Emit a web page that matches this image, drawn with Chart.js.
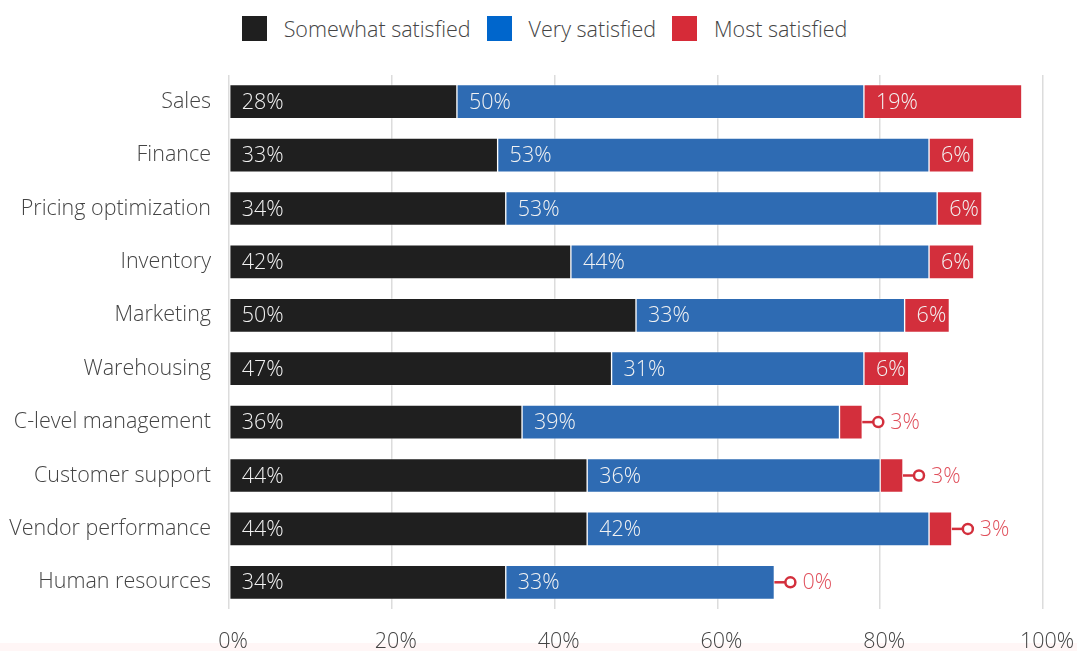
<!DOCTYPE html>
<html>
<head>
<meta charset="utf-8">
<script src="https://cdn.jsdelivr.net/npm/chart.js@4/dist/chart.umd.min.js"></script>
<style>
    html, body { margin: 0; padding: 0; background: #fff; }
    #wrap { position: relative; width: 1077px; height: 651px; overflow: hidden; }
    #band { position: absolute; left: 0; top: 643px; width: 1077px; height: 8px; background: #fff6f6; }
    #legend {
        position: absolute; left: 6px; top: 14px; width: 1077px;
        display: flex; justify-content: center; align-items: center;
        font-family: 'Open Sans', sans-serif; font-weight: 300; font-size: 21.5px; color: #444;
    }
    .item { display: flex; align-items: center; margin: 0 8px; }
    .box { width: 25px; height: 25px; margin-right: 17px; }
    canvas { position: absolute; left: 0; top: 0; }
</style>
</head>
<body>
<div id="wrap">
    <div id="band"></div>
    <div id="legend"></div>
    <canvas id="chart" width="1077" height="651"></canvas>
</div>
<script>
const categories = ['Sales', 'Finance', 'Pricing optimization', 'Inventory', 'Marketing', 'Warehousing',
    'C-level management', 'Customer support', 'Vendor performance', 'Human resources'];
const somewhatSatisfied = [28, 33, 34, 42, 50, 47, 36, 44, 44, 34];
const verySatisfied = [50, 53, 53, 44, 33, 31, 39, 36, 42, 33];
const mostSatisfied = [19.4, 5.5, 5.5, 5.5, 5.5, 5.5, 2.8, 2.8, 2.8, 0];
const xTicks = [0, 20, 40, 60, 80, 100];

const FONT = "'Open Sans', sans-serif";
const FONT_SIZE = 21.5;
const COLORS = {
    somewhat: '#1f1f1f',
    very: '#2e6bb3',
    most: '#d32f3c',
    legendVery: '#0066cc',
    legendMost: '#d62b38',
    callout: '#e0505c',
};

// html legend, spacing is closer to the reference than the built-in one
const legendItems = [
    ['Somewhat satisfied', COLORS.somewhat],
    ['Very satisfied', COLORS.legendVery],
    ['Most satisfied', COLORS.legendMost],
];
const legendEl = document.getElementById('legend');
legendItems.forEach(([label, color]) => {
    const item = document.createElement('div');
    item.className = 'item';
    const box = document.createElement('div');
    box.className = 'box';
    box.style.background = color;
    const txt = document.createElement('span');
    txt.textContent = label;
    item.appendChild(box);
    item.appendChild(txt);
    legendEl.appendChild(item);
});

const segmentLabels = {
    id: 'segmentLabels',
    afterDatasetsDraw(chart) {
        const ctx = chart.ctx;
        ctx.save();
        ctx.font = `300 ${FONT_SIZE}px ${FONT}`;
        ctx.textBaseline = 'middle';
        ctx.textAlign = 'left';
        chart.data.datasets.forEach((ds, di) => {
            const meta = chart.getDatasetMeta(di);
            meta.data.forEach((bar, i) => {
                const v = ds.data[i];
                const txt = Math.round(v) + '%';
                const y = bar.y + 1;
                if (v >= 4) {
                    ctx.fillStyle = '#f2f2f2';
                    ctx.fillText(txt, Math.min(bar.x, bar.base) + 12, y);
                } else {
                    // callout for tiny segments
                    const end = Math.max(bar.x, bar.base);
                    const cx = end + 16;
                    ctx.strokeStyle = COLORS.most;
                    ctx.lineWidth = 2.5;
                    ctx.beginPath();
                    ctx.moveTo(end, bar.y);
                    ctx.lineTo(cx - 5, bar.y);
                    ctx.stroke();
                    ctx.beginPath();
                    ctx.arc(cx, bar.y, 5, 0, Math.PI * 2);
                    ctx.fillStyle = '#fff';
                    ctx.fill();
                    ctx.stroke();
                    ctx.fillStyle = COLORS.callout;
                    ctx.fillText(txt, cx + 12, y);
                }
            });
        });
        ctx.restore();
    },
};

new Chart(document.getElementById('chart'), {
    type: 'bar',
    data: {
        labels: categories,
        datasets: [
            { label: 'Somewhat satisfied', data: somewhatSatisfied, backgroundColor: COLORS.somewhat },
            { label: 'Very satisfied', data: verySatisfied, backgroundColor: COLORS.very },
            { label: 'Most satisfied', data: mostSatisfied, backgroundColor: COLORS.most },
        ].map(d => Object.assign(d, {
            barThickness: 34,
            borderWidth: 1,
            borderColor: 'rgba(255,255,255,0.3)',
            borderSkipped: false,
        })),
    },
    options: {
        indexAxis: 'y',
        responsive: false,
        animation: false,
        layout: { padding: { top: 75, right: 34, bottom: 0, left: 0 } },
        plugins: {
            legend: { display: false },
            tooltip: { enabled: false },
        },
        scales: {
            x: {
                stacked: true,
                min: 0,
                max: 100,
                afterBuildTicks: axis => { axis.ticks = xTicks.map(v => ({ value: v })); },
                afterFit: scale => {
                    scale.height = 42;
                    scale.paddingLeft = 0;
                    scale.paddingRight = 0;
                },
                ticks: {
                    callback: v => v + '%',
                    padding: 20,
                    labelOffset: 4,
                    color: '#444',
                    font: { family: FONT, size: FONT_SIZE, weight: 300 },
                },
                grid: { color: '#dcdcdc', lineWidth: 1.5, drawTicks: false },
                border: { display: false },
            },
            y: {
                stacked: true,
                afterFit: scale => { scale.width = 229; },
                ticks: {
                    padding: 18,
                    color: '#444',
                    font: { family: FONT, size: FONT_SIZE, weight: 300 },
                },
                grid: { display: false, drawTicks: false },
                border: { display: false },
            },
        },
    },
    plugins: [segmentLabels],
});
</script>
</body>
</html>
